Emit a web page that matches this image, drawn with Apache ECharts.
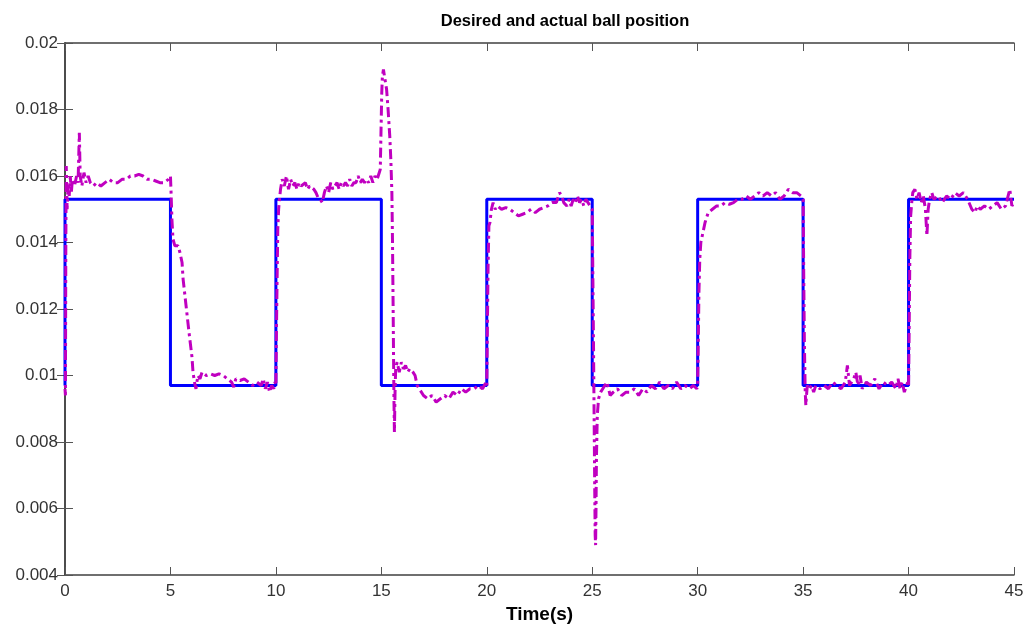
<!DOCTYPE html>
<html>
<head>
<meta charset="utf-8">
<script src="https://cdn.jsdelivr.net/npm/echarts@6/dist/echarts.min.js"></script>
<style>html,body{margin:0;padding:0;background:#fff}#c{width:1026px;height:624px}</style>
</head>
<body>
<div id="c"></div>
<script>
const titleText = 'Desired and actual ball position';
const xName = 'Time(s)';
const xTicks = [0, 5, 10, 15, 20, 25, 30, 35, 40, 45];
const yTicks = [0.004, 0.006, 0.008, 0.010, 0.012, 0.014, 0.016, 0.018, 0.020];

const desiredTime = [0, 0, 5, 5, 10, 10, 15, 15, 20, 20, 25, 25, 30, 30, 35, 35, 40, 40, 45];
const desiredPos = [0.0097, 0.0153, 0.0153, 0.0097, 0.0097, 0.0153, 0.0153, 0.0097, 0.0097, 0.0153, 0.0153, 0.0097, 0.0097, 0.0153, 0.0153, 0.0097, 0.0097, 0.0153, 0.0153];

const actualTime = [
  0, 0.02, 0.04, 0.06, 0.1, 0.15, 0.2, 0.25, 0.3, 0.35, 0.45, 0.55, 0.62, 0.68, 0.72, 0.8, 0.9, 1.0, 1.1, 1.2, 1.35, 1.5, 1.7, 1.9, 2.1, 2.3, 2.5, 2.7, 2.9, 3.1, 3.3, 3.5, 3.7, 3.9, 4.1, 4.3, 4.5, 4.7, 4.9, 5.0,
  5.03, 5.07, 5.12, 5.21, 5.36, 5.45, 5.55, 5.6, 5.74, 5.88, 6.02, 6.07, 6.14, 6.21, 6.3, 6.4, 6.5, 6.7, 6.9, 7.1, 7.3, 7.5, 7.7, 7.9, 8.0, 8.1, 8.3, 8.5, 8.7, 8.9, 9.1, 9.3, 9.4, 9.5, 9.6, 9.7, 9.8, 9.9, 9.96,
  10.0, 10.03, 10.06, 10.09, 10.13, 10.17, 10.22, 10.3, 10.4, 10.5, 10.6, 10.7, 10.8, 10.9, 11.0, 11.1, 11.2, 11.4, 11.5, 11.6, 11.8, 11.9, 12.0, 12.1, 12.2, 12.3, 12.4, 12.5, 12.6, 12.7, 12.8, 12.9, 13.0, 13.1, 13.2, 13.3, 13.4, 13.5, 13.6, 13.7, 13.8, 13.9, 14.0, 14.1, 14.2, 14.3, 14.4, 14.5, 14.6, 14.7, 14.8, 14.9,
  14.95, 14.98, 15.02, 15.05, 15.1, 15.18, 15.25, 15.32, 15.4, 15.45, 15.5, 15.53, 15.56, 15.58, 15.6, 15.62, 15.65, 15.68, 15.75, 15.85, 15.95, 16.05, 16.15, 16.25, 16.35, 16.5, 16.6, 16.7, 16.8, 17.0, 17.2, 17.4, 17.6, 17.8, 18.0, 18.2, 18.4, 18.6, 18.8, 19.0, 19.2, 19.4, 19.6, 19.8, 19.96,
  20.0, 20.03, 20.06, 20.1, 20.15, 20.22, 20.3, 20.4, 20.5, 20.7, 20.9, 21.1, 21.3, 21.5, 21.7, 21.9, 22.1, 22.3, 22.5, 22.7, 22.9, 23.1, 23.3, 23.45, 23.55, 23.65, 23.8, 23.9, 24.0, 24.1, 24.2, 24.3, 24.4, 24.5, 24.6, 24.7, 24.8, 24.9, 25.0,
  25.03, 25.06, 25.08, 25.1, 25.12, 25.14, 25.16, 25.18, 25.2, 25.24, 25.3, 25.4, 25.5, 25.7, 25.85, 26.0, 26.2, 26.4, 26.6, 26.8, 27.0, 27.2, 27.4, 27.6, 27.8, 28.0, 28.2, 28.4, 28.6, 28.8, 29.0, 29.2, 29.4, 29.6, 29.8, 29.96,
  30.0, 30.03, 30.06, 30.1, 30.15, 30.25, 30.35, 30.5, 30.7, 30.9, 31.1, 31.3, 31.5, 31.7, 31.9, 32.1, 32.3, 32.5, 32.7, 32.9, 33.1, 33.3, 33.5, 33.7, 33.9, 34.1, 34.3, 34.5, 34.7, 34.9, 35.0,
  35.03, 35.06, 35.1, 35.13, 35.16, 35.2, 35.3, 35.4, 35.5, 35.6, 35.8, 36.0, 36.2, 36.4, 36.6, 36.8, 37.0, 37.1, 37.2, 37.4, 37.5, 37.6, 37.7, 37.8, 38.0, 38.2, 38.4, 38.6, 38.8, 39.0, 39.2, 39.4, 39.5, 39.6, 39.7, 39.8, 39.96,
  40.0, 40.03, 40.06, 40.1, 40.15, 40.2, 40.3, 40.4, 40.5, 40.6, 40.7, 40.8, 40.87, 40.93, 41.0, 41.1, 41.2, 41.4, 41.6, 41.8, 42.0, 42.2, 42.4, 42.6, 42.8, 43.0, 43.15, 43.25, 43.4, 43.6, 43.8, 44.0, 44.2, 44.4, 44.6, 44.8, 44.9, 45.0
];
const actualPos = [
  0.0096, 0.0094, 0.0140, 0.0163, 0.0150, 0.0158, 0.0154, 0.0160, 0.0155, 0.0159, 0.0157, 0.0160, 0.0158, 0.0173, 0.0160, 0.0157, 0.0161, 0.0158, 0.0160, 0.0158, 0.0157, 0.0158, 0.0157, 0.0158, 0.0159, 0.0158, 0.0158, 0.0159, 0.0159, 0.0160, 0.0160, 0.01605, 0.0160, 0.0159, 0.0159, 0.01585, 0.0158, 0.0158, 0.0159, 0.0160,
  0.0155, 0.0147, 0.0141, 0.0139, 0.0139, 0.0137, 0.0134, 0.0129, 0.0121, 0.0113, 0.01056, 0.0101, 0.0098, 0.0096, 0.0100, 0.0099, 0.0101, 0.0100, 0.01005, 0.0100, 0.01005, 0.0100, 0.0099, 0.0098, 0.00965, 0.0099, 0.00985, 0.0099, 0.0098, 0.0097, 0.0098, 0.0097, 0.0099, 0.0096, 0.0098, 0.0095, 0.0097, 0.0096, 0.0098,
  0.0097, 0.0115, 0.0130, 0.0144, 0.0150, 0.0153, 0.0156, 0.0159, 0.0157, 0.0160, 0.0156, 0.0159, 0.0157, 0.0158, 0.0156, 0.0158, 0.0157, 0.0158, 0.0156, 0.0157, 0.0156, 0.0155, 0.01535, 0.0153, 0.0152, 0.0155, 0.0157, 0.0155, 0.0158, 0.0156, 0.0157, 0.0158, 0.0156, 0.0158, 0.0157, 0.0158, 0.0157, 0.0159, 0.0157, 0.0158, 0.0158, 0.0160, 0.0158, 0.0159, 0.0158, 0.0159, 0.0158, 0.0160, 0.0158, 0.0160, 0.0159, 0.0161,
  0.0162, 0.0172, 0.0185, 0.0190, 0.0192, 0.01915, 0.0186, 0.0180, 0.0172, 0.0165, 0.0155, 0.0140, 0.0120, 0.0105, 0.0092, 0.0083, 0.0095, 0.0102, 0.0104, 0.0101, 0.0104, 0.0102, 0.0103, 0.0101, 0.0102, 0.0101, 0.0100, 0.0097, 0.0096, 0.0094, 0.0093, 0.0094, 0.0092, 0.0093, 0.0094, 0.0093, 0.0095, 0.0094, 0.0096, 0.0095, 0.0096, 0.0096, 0.0097, 0.0096, 0.0098,
  0.0097, 0.0115, 0.0132, 0.0145, 0.0146, 0.0150, 0.0152, 0.0150, 0.0151, 0.0150, 0.01505, 0.0150, 0.0149, 0.0148, 0.01485, 0.0149, 0.0150, 0.0149, 0.0150, 0.01505, 0.0151, 0.0152, 0.0152, 0.0155, 0.0154, 0.0152, 0.0151, 0.0153, 0.0151, 0.0153, 0.0152, 0.0154, 0.0152, 0.0153, 0.0151, 0.0153, 0.0152, 0.0151, 0.0150,
  0.0130, 0.0110, 0.0095, 0.0080, 0.0065, 0.0052, 0.0049, 0.0060, 0.0075, 0.0088, 0.0093, 0.0095, 0.0096, 0.0098, 0.0094, 0.0095, 0.0096, 0.0094, 0.0095, 0.0095, 0.0096, 0.0094, 0.0096, 0.0095, 0.0097, 0.0096, 0.0098, 0.0096, 0.0097, 0.0096, 0.0098, 0.0096, 0.0097, 0.0096, 0.0097, 0.0096,
  0.0097, 0.0110, 0.0125, 0.0135, 0.0140, 0.0143, 0.0146, 0.0149, 0.0150, 0.0151, 0.0151, 0.0152, 0.01515, 0.0152, 0.0153, 0.0153, 0.0154, 0.0153, 0.0154, 0.0155, 0.0154, 0.0155, 0.0154, 0.0155, 0.0153, 0.0154, 0.0156, 0.0155, 0.0155, 0.0154, 0.0153,
  0.0130, 0.0110, 0.0095, 0.0091, 0.0094, 0.0097, 0.0096, 0.0097, 0.0095, 0.0097, 0.0096, 0.0097, 0.0096, 0.0098, 0.0097, 0.0096, 0.0098, 0.0103, 0.0097, 0.0099, 0.0101, 0.0097, 0.0100, 0.0096, 0.0098, 0.0097, 0.0099, 0.0096, 0.0098, 0.0097, 0.0098, 0.0096, 0.0099, 0.0096, 0.0098, 0.0095, 0.0098,
  0.0097, 0.0115, 0.0135, 0.0148, 0.0152, 0.0155, 0.0156, 0.0153, 0.0155, 0.0152, 0.0154, 0.0150, 0.0142, 0.0150, 0.0153, 0.0155, 0.0153, 0.0154, 0.0152, 0.0154, 0.0153, 0.0155, 0.0154, 0.0155, 0.0153, 0.0150, 0.0149, 0.0151, 0.0150, 0.0151, 0.0150, 0.0151, 0.0152, 0.0150, 0.0151, 0.0156, 0.0151, 0.0152
];

const desired = desiredTime.map((t, i) => [t, desiredPos[i]]);
const actual = actualTime.map((t, i) => [t, actualPos[i]]);

const axisColor = '#404040';
const font = 'Liberation Sans, Arial, sans-serif';
const fmtY = v => String(+v.toFixed(3));

const chart = echarts.init(document.getElementById('c'), null, {renderer: 'canvas'});
chart.setOption({
  animation: false,
  backgroundColor: '#ffffff',
  title: {
    text: titleText, left: 560, textAlign: 'center', top: 8,
    textStyle: {fontFamily: font, fontWeight: 'bold', fontSize: 16.5, color: '#000'}
  },
  grid: {left: 65, right: 12, top: 43, bottom: 49, containLabel: false, outerBoundsMode: 'none'},
  xAxis: [{
    type: 'value', min: 0, max: 45, interval: 5, position: 'bottom',
    name: xName, nameLocation: 'middle', nameGap: 30,
    nameTextStyle: {fontFamily: font, fontWeight: 'bold', fontSize: 19, color: '#000'},
    axisLine: {show: true, lineStyle: {color: axisColor, width: 1.5}},
    axisTick: {show: true, inside: true, length: 8, lineStyle: {color: '#555'}},
    axisLabel: {fontFamily: font, fontSize: 17, color: '#333', margin: 8},
    splitLine: {show: false}
  }, {
    type: 'value', min: 0, max: 45, interval: 5, position: 'top',
    axisLine: {show: true, lineStyle: {color: axisColor, width: 1.5}},
    axisTick: {show: true, inside: true, length: 8, lineStyle: {color: '#555'}},
    axisLabel: {show: false}, splitLine: {show: false}
  }],
  yAxis: [{
    type: 'value', min: 0.004, max: 0.02, interval: 0.002, position: 'left',
    axisLine: {show: true, lineStyle: {color: axisColor, width: 1.5}},
    axisTick: {show: true, inside: true, length: 8, lineStyle: {color: '#555'}},
    axisLabel: {fontFamily: font, fontSize: 17, color: '#333', margin: 7, formatter: fmtY},
    splitLine: {show: false}
  }, {
    type: 'value', min: 0.004, max: 0.02, interval: 0.002, position: 'right',
    axisLine: {show: true, lineStyle: {color: axisColor, width: 1.5}},
    axisTick: {show: true, inside: true, length: 8, lineStyle: {color: '#555'}},
    axisLabel: {show: false}, splitLine: {show: false}
  }],
  series: [{
    name: 'Desired', type: 'line', data: desired, showSymbol: false, symbol: 'none',
    xAxisIndex: 0, yAxisIndex: 0,
    lineStyle: {color: '#0000ff', width: 3}, z: 2
  }, {
    name: 'Actual', type: 'line', data: actual, showSymbol: false, symbol: 'none',
    xAxisIndex: 0, yAxisIndex: 0,
    lineStyle: {color: '#c000c0', width: 3, type: [10, 4, 3, 4]}, z: 3
  }]
});
</script>
</body>
</html>
